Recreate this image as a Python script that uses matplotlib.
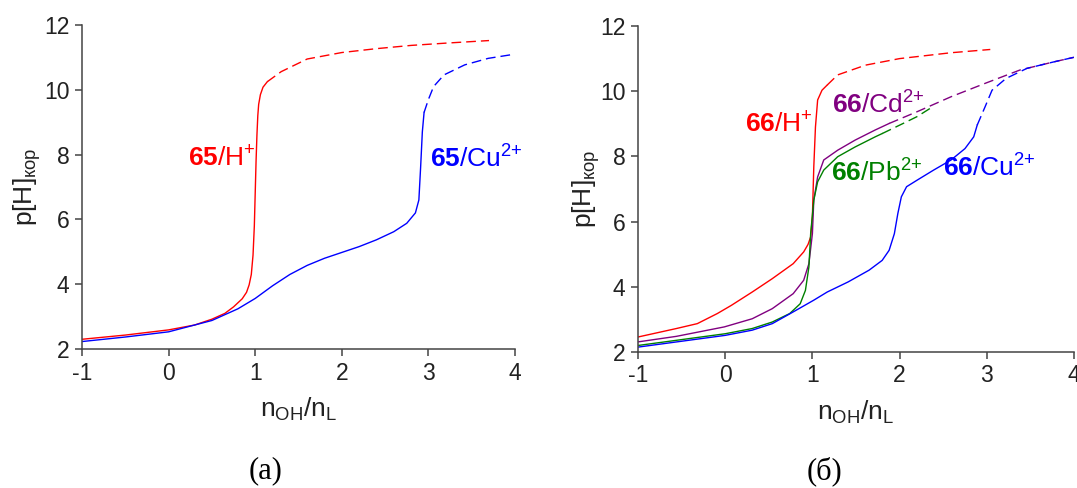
import matplotlib
matplotlib.use("Agg")
import matplotlib.pyplot as plt

plt.rcParams['font.family'] = ['Liberation Sans', 'DejaVu Sans']
plt.rcParams['mathtext.fontset'] = 'custom'
plt.rcParams['mathtext.rm'] = 'Liberation Sans'
plt.rcParams['mathtext.it'] = 'Liberation Sans:italic'
plt.rcParams['mathtext.bf'] = 'Liberation Sans:bold'

# ---------------- data: panel (a) ----------------
a_h_solid_x = [-1, -0.5, 0, 0.3, 0.5, 0.65, 0.75, 0.85, 0.9, 0.93, 0.955, 0.975, 0.99, 1.0, 1.01, 1.02, 1.03, 1.04, 1.06, 1.09, 1.14]
a_h_solid_y = [2.30, 2.43, 2.59, 2.74, 2.92, 3.10, 3.30, 3.55, 3.75, 3.98, 4.3, 4.9, 5.8, 6.8, 7.8, 8.6, 9.2, 9.55, 9.85, 10.08, 10.25]
a_h_dash_x = [1.14, 1.3, 1.6, 2.0, 2.4, 2.8, 3.2, 3.7]
a_h_dash_y = [10.25, 10.56, 10.95, 11.15, 11.27, 11.37, 11.44, 11.52]

a_cu_solid_x = [-1, -0.5, 0, 0.5, 0.8, 1.0, 1.2, 1.4, 1.6, 1.8, 2.0, 2.2, 2.4, 2.6, 2.75, 2.85, 2.89, 2.91, 2.93, 2.95]
a_cu_solid_y = [2.23, 2.37, 2.53, 2.88, 3.24, 3.56, 3.95, 4.3, 4.58, 4.8, 4.98, 5.16, 5.37, 5.62, 5.88, 6.2, 6.6, 7.6, 8.7, 9.3]
a_cu_dash_x = [2.95, 3.0, 3.06, 3.18, 3.42, 3.69, 3.95]
a_cu_dash_y = [9.3, 9.7, 10.1, 10.46, 10.77, 10.97, 11.08]

# ---------------- data: panel (б) ----------------
b_h_solid_x = [-1, -0.56, -0.32, -0.09, 0.07, 0.31, 0.54, 0.78, 0.9, 0.95, 0.98, 1.0, 1.016, 1.035, 1.06, 1.11, 1.17]
b_h_solid_y = [2.46, 2.72, 2.87, 3.18, 3.43, 3.84, 4.25, 4.71, 5.07, 5.3, 5.53, 6.15, 7.68, 8.9, 9.73, 10.03, 10.19]
b_h_dash_x = [1.17, 1.29, 1.61, 2.0, 2.59, 3.04]
b_h_dash_y = [10.19, 10.5, 10.8, 11.0, 11.18, 11.28]

b_cd_solid_x = [-1, -0.56, -0.01, 0.31, 0.54, 0.78, 0.9, 0.96, 1.0, 1.016, 1.06, 1.13, 1.29, 1.49, 1.72, 1.88]
b_cd_solid_y = [2.31, 2.48, 2.77, 3.02, 3.33, 3.79, 4.2, 4.71, 5.63, 6.66, 7.37, 7.89, 8.19, 8.5, 8.81, 9.01]
b_cd_dash_x = [1.88, 2.2, 2.59, 2.98, 3.38, 3.77, 4.0]
b_cd_dash_y = [9.01, 9.37, 9.83, 10.24, 10.65, 10.9, 11.04]

b_pb_solid_x = [-1, 0, 0.31, 0.54, 0.74, 0.86, 0.92, 0.96, 0.98, 1.016, 1.06, 1.13, 1.29, 1.49, 1.72, 1.8]
b_pb_solid_y = [2.2, 2.56, 2.72, 2.92, 3.18, 3.48, 3.89, 4.61, 5.63, 6.66, 7.22, 7.58, 7.99, 8.29, 8.6, 8.7]
b_pb_dash_x = [1.8, 2.04, 2.2, 2.39]
b_pb_dash_y = [8.7, 9.01, 9.22, 9.54]

b_cu_solid_x = [-1, 0, 0.31, 0.54, 0.78, 1.016, 1.17, 1.41, 1.65, 1.8, 1.88, 1.94, 1.98, 2.02, 2.08, 2.2, 2.39, 2.59, 2.75, 2.85, 2.89]
b_cu_solid_y = [2.15, 2.51, 2.67, 2.87, 3.23, 3.59, 3.84, 4.15, 4.51, 4.81, 5.12, 5.63, 6.25, 6.76, 7.07, 7.27, 7.58, 7.89, 8.24, 8.6, 8.96]
b_cu_dash_x = [2.89, 2.98, 3.06, 3.22, 3.46, 3.77, 4.0]
b_cu_dash_y = [8.96, 9.52, 10.03, 10.39, 10.7, 10.9, 11.04]

x_ticks = [-1, 0, 1, 2, 3, 4]
y_ticks = [2, 4, 6, 8, 10, 12]

RED = '#ff0000'
BLUE = '#0000ff'
PURPLE = '#800080'
GREEN = '#008000'
AXC = '#444444'
LW = 1.0
DASH = (0, (7, 3.6))

fig = plt.figure(figsize=(10.77, 4.88), dpi=100)
axA = fig.add_axes([82/1077, 1-349/488, 433/1077, 324/488])
axB = fig.add_axes([638/1077, 1-352/488, 436/1077, 326/488])

def style(ax, ylab_x):
    ax.set_xlim(-1, 4)
    ax.set_ylim(2, 12)
    ax.set_xticks(x_ticks)
    ax.set_yticks(y_ticks)
    ax.set_xticklabels([str(t) for t in x_ticks])
    ax.set_yticklabels([str(t) for t in y_ticks])
    for s in ['top', 'right']:
        ax.spines[s].set_visible(False)
    for s in ['left', 'bottom']:
        ax.spines[s].set_color(AXC)
        ax.spines[s].set_linewidth(1.1)
    ax.tick_params(direction='out', length=5, width=1.1, color=AXC,
                   labelsize=16.5, labelcolor='#222222', pad=4)
    ax.set_xlabel(r'n$_{\mathregular{OH}}$/n$_{\mathregular{L}}$', fontsize=19, color='#222222')
    ax.set_ylabel(r'p[H]$_{\mathregular{кор}}$', fontsize=19, color='#222222')
    ax.xaxis.set_label_coords(0.5, -0.145)
    ax.yaxis.set_label_coords(ylab_x, 0.5)

style(axA, -0.09)
style(axB, -0.083)

# panel (a)
axA.plot(a_h_solid_x, a_h_solid_y, color=RED, lw=LW)
axA.plot(a_h_dash_x, a_h_dash_y, color=RED, lw=LW, linestyle=DASH)
axA.plot(a_cu_solid_x, a_cu_solid_y, color=BLUE, lw=LW)
axA.plot(a_cu_dash_x, a_cu_dash_y, color=BLUE, lw=LW, linestyle=DASH)

FS = 19
axA.text(0.226, 7.62, r'$\mathbf{65}$/H$^{+}$', color=RED, fontsize=FS, va='baseline', ha='left')
axA.text(3.02, 7.59, r'$\mathbf{65}$/Cu$^{2{+}}$', color=BLUE, fontsize=FS, va='baseline', ha='left')

# panel (б)
axB.plot(b_h_solid_x, b_h_solid_y, color=RED, lw=LW)
axB.plot(b_h_dash_x, b_h_dash_y, color=RED, lw=LW, linestyle=DASH)
axB.plot(b_cd_solid_x, b_cd_solid_y, color=PURPLE, lw=LW)
axB.plot(b_cd_dash_x, b_cd_dash_y, color=PURPLE, lw=LW, linestyle=DASH)
axB.plot(b_pb_solid_x, b_pb_solid_y, color=GREEN, lw=LW)
axB.plot(b_pb_dash_x, b_pb_dash_y, color=GREEN, lw=LW, linestyle=DASH)
axB.plot(b_cu_solid_x, b_cu_solid_y, color=BLUE, lw=LW)
axB.plot(b_cu_dash_x, b_cu_dash_y, color=BLUE, lw=LW, linestyle=DASH)

axB.text(0.23, 8.72, r'$\mathbf{66}$/H$^{+}$', color=RED, fontsize=FS, va='baseline', ha='left')
axB.text(1.23, 9.32, r'$\mathbf{66}$/Cd$^{2{+}}$', color=PURPLE, fontsize=FS, va='baseline', ha='left')
axB.text(1.21, 7.22, r'$\mathbf{66}$/Pb$^{2{+}}$', color=GREEN, fontsize=FS, va='baseline', ha='left')
axB.text(2.50, 7.39, r'$\mathbf{66}$/Cu$^{2{+}}$', color=BLUE, fontsize=FS, va='baseline', ha='left')

# captions
fig.text(266/1077, 1-471/488, '(a)', fontsize=22, family='Liberation Serif', ha='center', va='center')
fig.text(824/1077, 1-471/488, '(б)', fontsize=22, family='Liberation Serif', ha='center', va='center')

fig.savefig('out.png', dpi=100)
